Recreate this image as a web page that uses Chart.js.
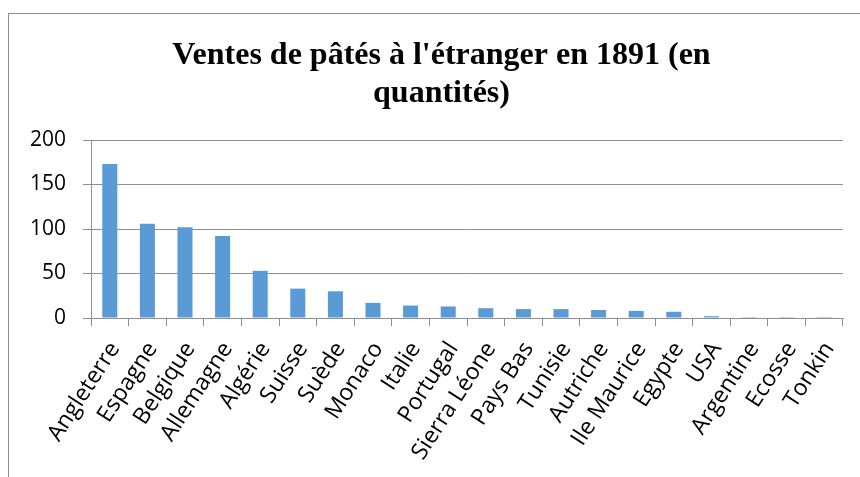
<!DOCTYPE html>
<html lang="fr">
<head>
<meta charset="utf-8">
<title>Ventes de pâtés à l'étranger en 1891</title>
<script src="https://cdn.jsdelivr.net/npm/chart.js@4/dist/chart.umd.min.js"></script>
<style>
  html, body { margin: 0; padding: 0; background: #fff; overflow: hidden; }
  body { width: 860px; height: 477px; position: relative; }
  #frame {
    position: absolute; left: 8px; top: 13px; width: 900px; height: 500px;
    border-top: 1px solid #8c8c8c; border-left: 1px solid #8c8c8c;
  }
  #wrap { position: absolute; left: 8px; top: 0; width: 867px; height: 477px; }
</style>
</head>
<body>
<div id="frame"></div>
<div id="wrap"><canvas id="chart" width="867" height="477"></canvas></div>
<script>
const titleLines = ["Ventes de pâtés à l'étranger en 1891 (en", "quantités)"];
const pays = ["Angleterre", "Espagne", "Belgique", "Allemagne", "Algérie", "Suisse", "Suède",
  "Monaco", "Italie", "Portugal", "Sierra Léone", "Pays Bas", "Tunisie", "Autriche",
  "Ile Maurice", "Egypte", "USA", "Argentine", "Ecosse", "Tonkin"];
const quantites = [173, 106, 102, 92, 53, 33, 30, 17, 14, 13, 11, 10, 10, 9, 8, 7, 2, 1, 1, 1];
const yTicks = [0, 50, 100, 150, 200];

const axisGrey = '#8e8e8e';
const sansFamily = "'Open Sans', 'Noto Sans', sans-serif";

// Two-line title centred on the chart frame (the frame is wider than the visible window)
const frameTitle = {
  id: 'frameTitle',
  afterDraw(chart) {
    const ctx = chart.ctx;
    ctx.save();
    ctx.fillStyle = '#000';
    ctx.font = "bold 32px 'Liberation Serif', 'Times New Roman', serif";
    ctx.textAlign = 'center';
    ctx.textBaseline = 'middle';
    const cx = chart.width / 2;
    titleLines.forEach((line, i) => ctx.fillText(line, cx, 56 + i * 38));
    ctx.restore();
  }
};

new Chart(document.getElementById('chart'), {
  type: 'bar',
  data: {
    labels: pays,
    datasets: [{
      data: quantites,
      backgroundColor: '#5b9bd5',
      borderWidth: 0,
      categoryPercentage: 1,
      barPercentage: 0.4
    }]
  },
  plugins: [frameTitle],
  options: {
    responsive: false,
    animation: false,
    events: [],
    layout: { padding: { left: 0, right: 32, top: 140, bottom: 0 } },
    plugins: {
      legend: { display: false },
      tooltip: { enabled: false },
      title: { display: false }
    },
    scales: {
      x: {
        offset: true,
        grid: {
          offset: true,
          drawOnChartArea: false,
          drawTicks: true,
          tickLength: 8,
          color: axisGrey
        },
        border: { display: true, color: axisGrey, width: 1 },
        ticks: {
          color: '#000',
          font: { family: sansFamily, size: 23 },
          minRotation: 57,
          maxRotation: 57,
          autoSkip: false,
          padding: 11,
          labelOffset: 5
        },
        afterFit(scale) { scale.height = 159; }
      },
      y: {
        min: 0,
        max: 200,
        afterBuildTicks(scale) { scale.ticks = yTicks.map(v => ({ value: v })); },
        grid: { color: axisGrey, tickLength: 8, drawTicks: true },
        border: { display: true, color: axisGrey, width: 1 },
        ticks: { color: '#000', font: { family: sansFamily, size: 21 }, padding: 17 },
        afterFit(scale) { scale.width = 83; }
      }
    }
  }
});
</script>
</body>
</html>
